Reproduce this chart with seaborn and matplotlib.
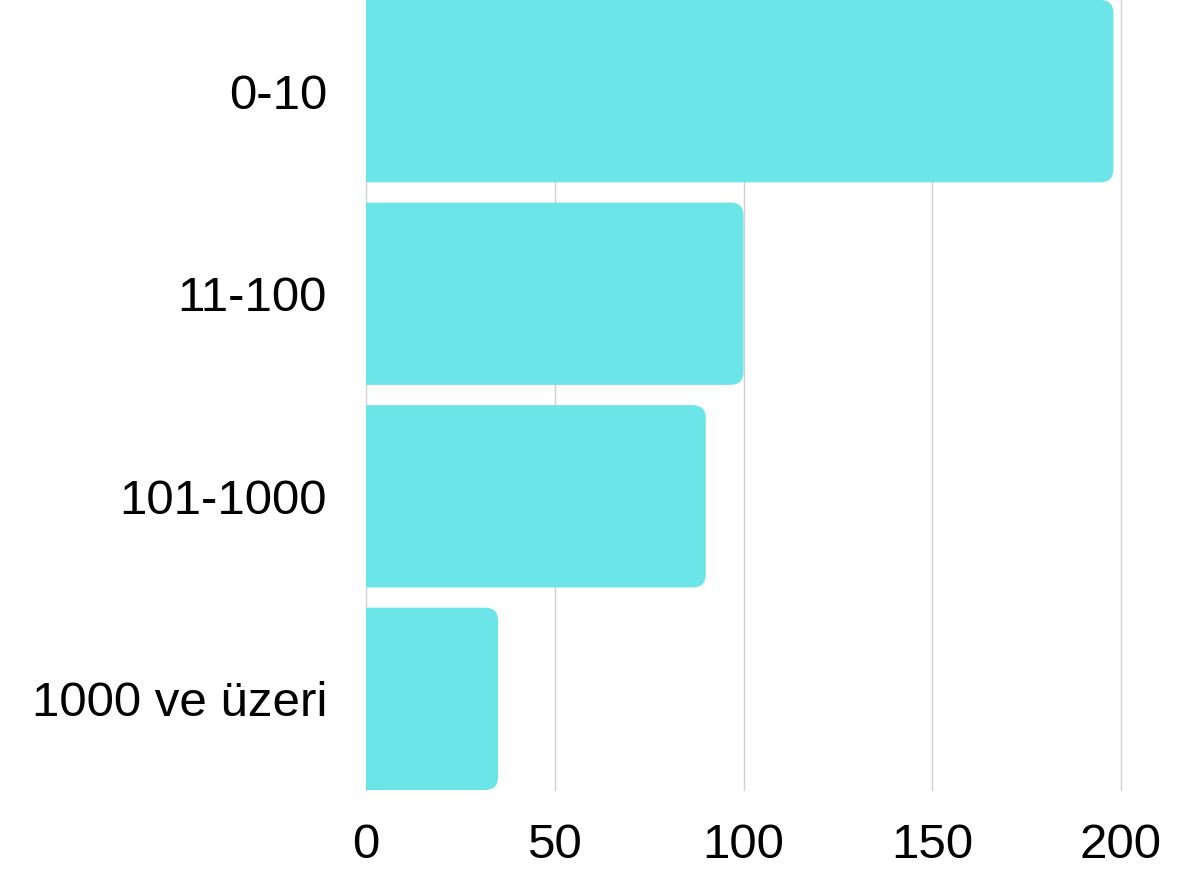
import matplotlib
matplotlib.use("Agg")
import matplotlib.pyplot as plt
from matplotlib.patches import FancyBboxPatch
import seaborn as sns
import pandas as pd

categories = ["0-10", "11-100", "101-1000", "1000 ve üzeri"]
values = [198, 100, 90, 35]
xticks = [0, 50, 100, 150, 200]

sns.set_theme(style="white")
plt.rcParams["font.family"] = ["Liberation Sans", "DejaVu Sans"]

fig = plt.figure(figsize=(11.92, 8.72), dpi=100)
ax = fig.add_axes([366/1192, 1 - 790/872, (1121 - 366)/1192, 790/872])

df = pd.DataFrame({"cat": categories, "val": values})
sns.barplot(data=df, x="val", y="cat", orient="h", color="#6ce5e8",
            saturation=1, width=0.9, ax=ax, zorder=2)

ax.set_xlim(0, 200)
ax.set_ylim(3.45, -0.45)
ax.set_xticks(xticks)
ax.set_xticklabels([str(t) for t in xticks])

# replace bars with right-rounded patches
px_x = (1121 - 366) / 200.0
px_y = 790 / 3.9
radius_px = 13
r_x = radius_px / px_x
aspect = px_x / px_y
for p in list(ax.patches):
    x0, y0 = p.get_x(), p.get_y()
    w, h = p.get_width(), p.get_height()
    fc = p.get_facecolor()
    p.remove()
    fb = FancyBboxPatch((x0 - 2 * r_x, y0), w + 2 * r_x, h,
                        boxstyle=f"round,pad=0,rounding_size={r_x}",
                        mutation_aspect=aspect, facecolor=fc, edgecolor="none",
                        linewidth=0, zorder=2, clip_on=True)
    ax.add_patch(fb)

ax.grid(axis="x", color="#d0d0d0", linewidth=1, zorder=0)
ax.grid(axis="y", visible=False)
for gl in ax.get_xgridlines():
    gl.set_clip_on(False)
ax.set_axisbelow(True)
for s in ax.spines.values():
    s.set_visible(False)
ax.set_xlabel("")
ax.set_ylabel("")
ax.tick_params(axis="y", length=0, pad=28, labelsize=35.5, labelcolor="black")
ax.tick_params(axis="x", length=0, pad=24, labelsize=35.5, labelcolor="black")

fig.savefig("out.png", dpi=100, facecolor="white")
